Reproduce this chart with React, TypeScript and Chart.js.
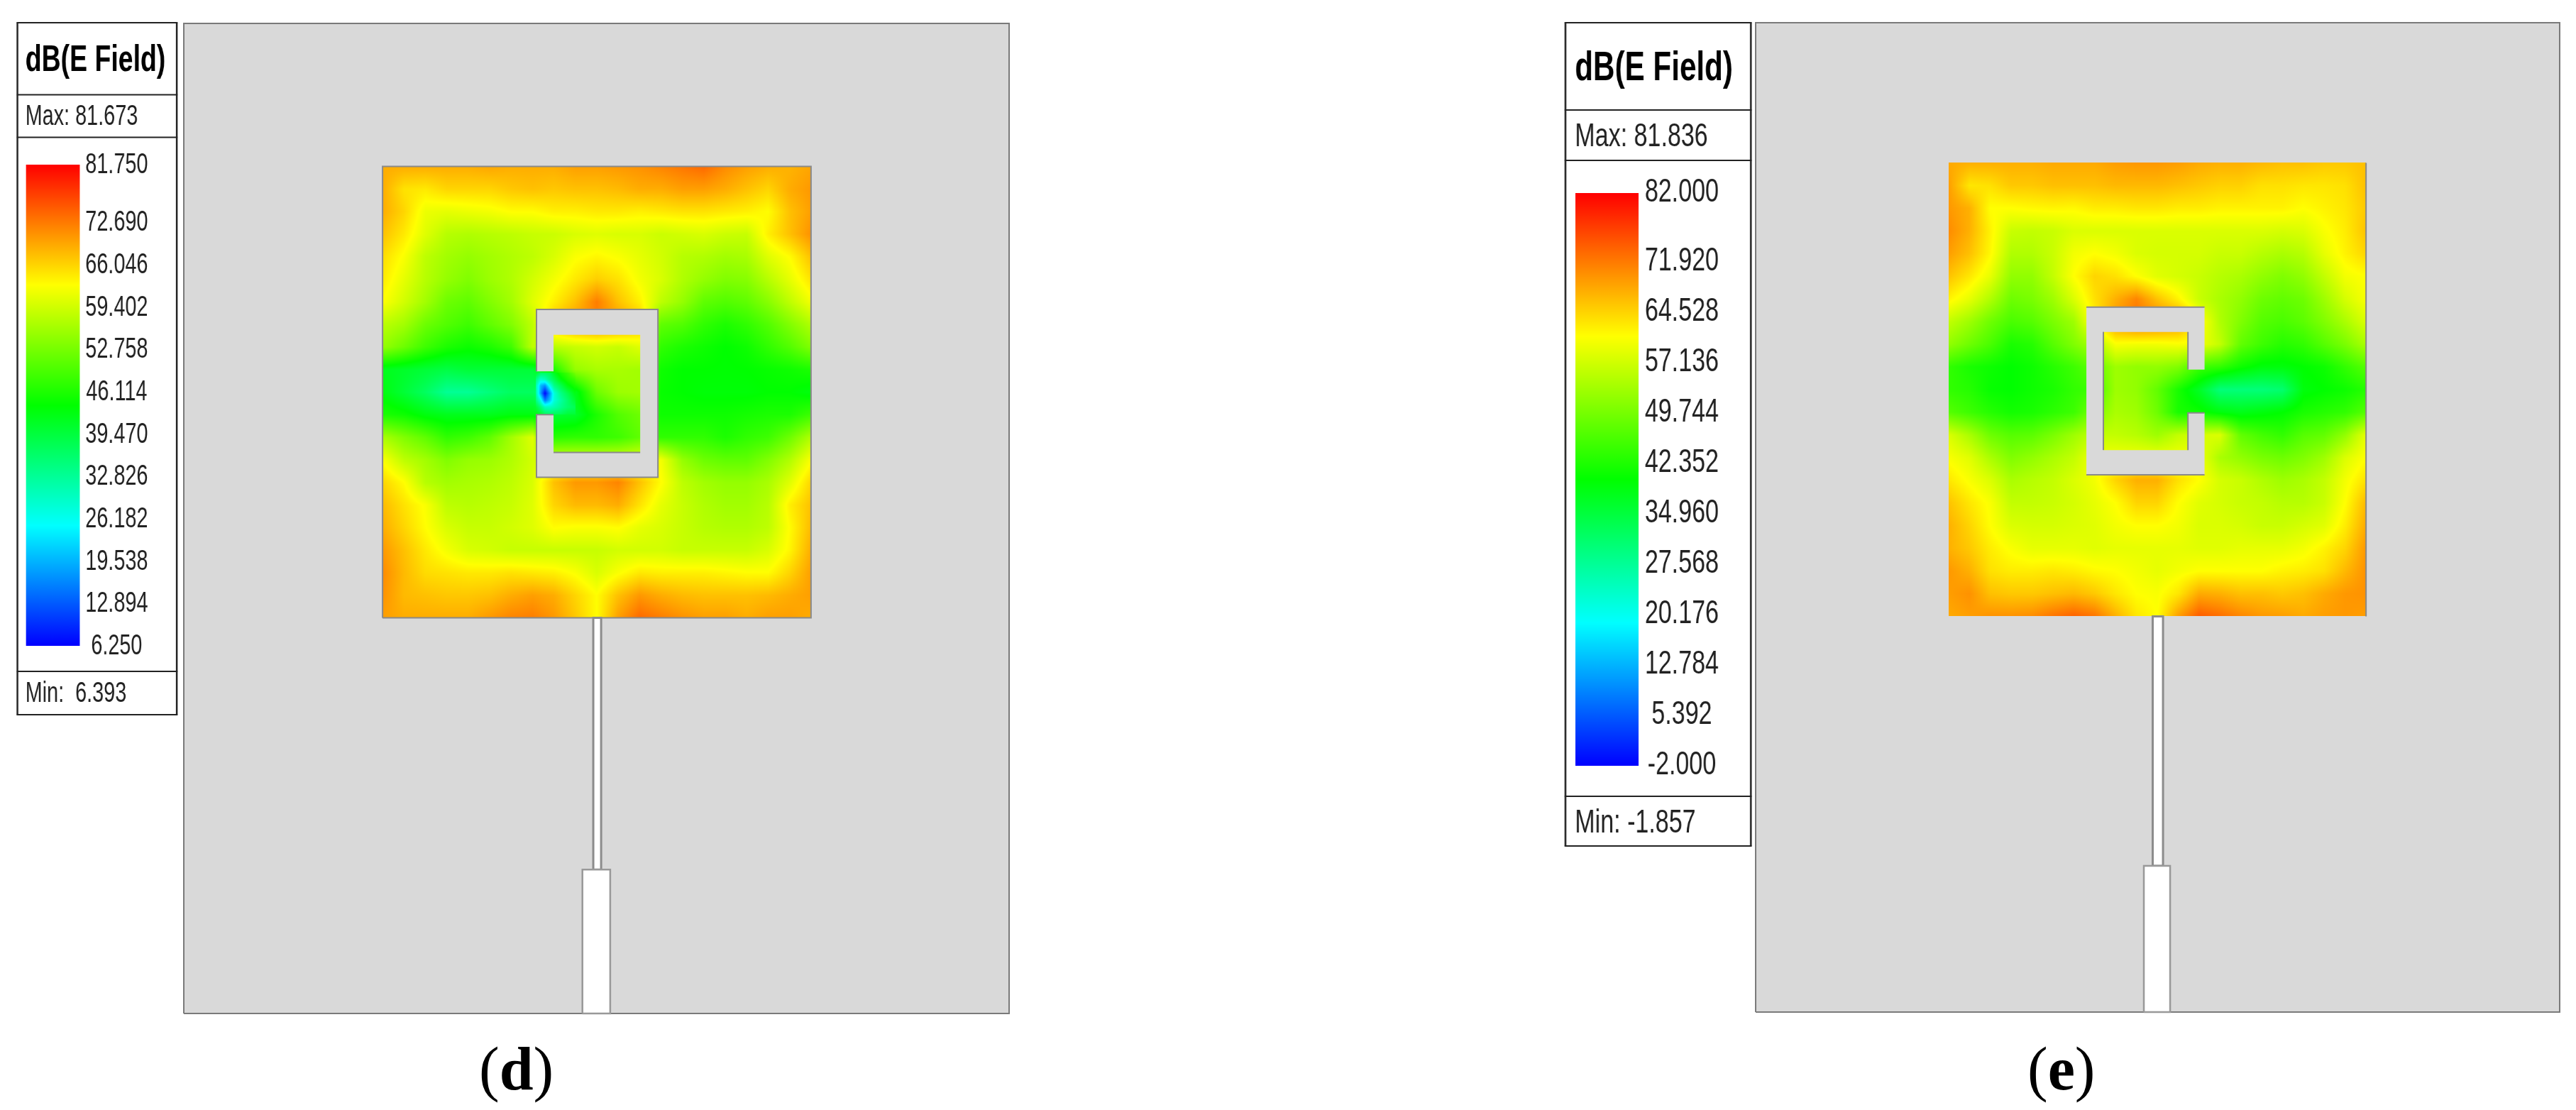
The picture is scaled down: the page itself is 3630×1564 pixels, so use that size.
import React, { useEffect, useRef } from "react";
import { Chart, registerables } from "chart.js";

Chart.register(...registerables);

// ---------- data: model units are millimetres on the board ----------
const boardW = 60;
const boardH = 72;

const ticksD = [81.75, 72.69, 66.046, 59.402, 52.758, 46.114, 39.47, 32.826, 26.182, 19.538, 12.894, 6.25];
const ticksE = [82, 71.92, 64.528, 57.136, 49.744, 42.352, 34.96, 27.568, 20.176, 12.784, 5.392, -2];

const patchD = { x0: 14.45, x1: 45.6, y0: 28.77, y1: 61.6 };
const patchE = { x0: 14.4, x1: 45.55, y0: 28.8, y1: 61.8 };

const ringDx = [25.64, 25.64, 34.47, 34.47, 25.64, 25.64, 26.88, 26.88, 33.18, 33.18, 26.88, 26.88, 25.64];
const ringDy = [46.7, 51.2, 51.2, 39, 39, 43.55, 43.55, 40.8, 40.8, 49.35, 49.35, 46.7, 46.7];
const ringEx = [33.5, 33.5, 24.68, 24.68, 33.5, 33.5, 32.26, 32.26, 25.95, 25.95, 32.26, 32.26, 33.5];
const ringEy = [46.75, 51.3, 51.3, 39.1, 39.1, 43.6, 43.6, 40.9, 40.9, 49.5, 49.5, 46.75, 46.75];

const feedD = { x0: 29.77, x1: 30.34, y0: 10.47, y1: 28.77 };
const feedE = { x0: 29.63, x1: 30.4, y0: 10.64, y1: 28.8 };
const portD = { x0: 28.98, x1: 31.0, y0: 0, y1: 10.47 };
const portE = { x0: 28.97, x1: 30.93, y0: 0, y1: 10.64 };

// ring / patch edges carrying the grey shading line
const edgesD = [
  [[14.45, 28.77], [14.45, 61.6], [45.6, 61.6], [45.6, 28.77], [14.45, 28.77]],
  [[25.64, 46.7], [25.64, 51.2], [34.47, 51.2], [34.47, 39], [25.64, 39], [25.64, 43.55], [26.88, 43.55]],
  [[26.88, 40.8], [33.18, 40.8]],
];
const edgesE = [
  [[45.55, 28.8], [45.55, 61.8]],
  [[24.68, 51.3], [33.5, 51.3]],
  [[24.68, 39.1], [33.5, 39.1]],
  [[25.95, 40.9], [25.95, 49.5]],
  [[32.26, 40.9], [32.26, 43.6], [33.5, 43.6]],
  [[32.26, 49.5], [32.26, 46.75]],
];

// dB(E Field) sampled top-to-bottom, left-to-right over the patch
const fieldD = [
  [69, 69, 69, 69, 69, 69.5, 69, 69, 69, 70, 70, 70.5, 71, 72, 73, 74, 71.5, 70, 69, 68.5, 69.5],
  [69, 65, 64.5, 66, 66, 66, 67, 67.5, 67, 67.5, 67.5, 68, 69, 69, 70, 70, 69, 67.5, 66, 69, 70.5],
  [69, 66, 61.5, 61, 61.5, 62, 63, 63, 64, 64, 64.5, 64.5, 64, 64.5, 65, 65, 64.5, 64, 63, 67.5, 70],
  [67.5, 64.5, 60.5, 57.5, 57, 57.5, 58, 58.7, 59, 60, 60.5, 60, 60, 59, 59.5, 60, 59, 58.7, 64, 67.5, 71],
  [65.5, 62.5, 58, 56, 55, 56, 57, 58, 60, 62.5, 63.5, 62.5, 61, 59.5, 57.5, 57, 56, 56.5, 60.5, 63, 67.5],
  [64.5, 61, 57.5, 55, 53.5, 55.5, 57, 59.5, 62, 64.5, 66.5, 65, 62, 60, 57, 55, 53.5, 54, 57.5, 61, 65],
  [62.8, 59.5, 56, 52, 51, 53.5, 56, 60.5, 64, 67.5, 72.5, 67.5, 64, 58, 55, 51, 50, 51, 54, 58, 62],
  [58, 56, 52, 50, 48.5, 51, 53.5, 58, 68, 71, 72, 71, 68, 51, 50, 47.5, 46, 47.5, 50, 53.5, 57],
  [55, 52, 48.5, 46, 44.8, 46, 48.5, 58, 57.5, 58.7, 59.5, 58.7, 60.5, 47.5, 46, 45, 44, 45, 47.5, 50, 53.5],
  [42, 41, 40, 39, 40, 40, 40, 40, 46, 55, 56.5, 56.5, 56, 45, 44, 44, 43.8, 44, 44.5, 45, 46],
  [43, 40, 37, 33, 33, 35, 37, 37, 33, 42, 52, 55.5, 56, 44.5, 44, 43.5, 43.5, 43.5, 44, 44, 43],
  [46, 45, 43, 42, 42, 42, 43, 43, 40, 41, 46, 50, 52, 45, 45, 45, 45, 45.5, 46, 46, 48.5],
  [56.5, 53.5, 51, 47.5, 48.5, 51, 56, 60.5, 47, 47.5, 47.5, 48.5, 51, 47.5, 47.5, 47.5, 46, 47.5, 48.5, 52, 57],
  [62.5, 58, 56, 53.5, 55, 55.5, 57, 59.5, 60, 60, 60, 60, 61, 62, 55, 52, 51, 51, 53.5, 57, 62.5],
  [66, 63, 57.5, 56, 56.5, 57, 58, 60, 67.5, 70.5, 70.5, 72, 67.5, 63, 58, 56, 55, 55, 56.5, 60.5, 66],
  [68, 65, 62.5, 58, 57.5, 58, 58.7, 60.5, 66, 68, 68, 69, 65, 61, 58.7, 57, 56, 56, 57.5, 64, 67.5],
  [69, 66, 63, 60, 58.7, 58.7, 59.5, 60.5, 63, 62.5, 62.5, 63, 61, 60, 58.7, 57.5, 57, 57, 58, 63, 68],
  [70.5, 67.5, 64.5, 62, 60, 59.5, 58.7, 58.7, 58.7, 58.7, 58.7, 59.5, 59.5, 59.5, 58.7, 58.7, 58.7, 58.7, 60, 63.5, 69],
  [71.5, 68, 65.5, 65, 64.5, 64.5, 65, 64.5, 64, 62.5, 60, 62.5, 64.5, 64, 64, 64, 63.5, 63, 63, 66, 70],
  [71, 68, 67.5, 67, 67, 67.5, 69, 70, 69, 66, 63, 67.5, 70.5, 69, 68, 67.5, 67.5, 67.5, 68, 69, 70],
  [70, 69, 69, 69, 69, 70.5, 72, 72.5, 70.5, 67, 63, 70, 74, 72.5, 71, 70, 70, 69, 70, 70, 69],
];

// finer samples round the slot of panel (d), where the minimum sits
const slotXd = [25.59, 25.95, 26.26, 26.63, 26.93, 27.4, 27.9, 28.5];
const slotYd = [46.6, 46.1, 45.65, 45.1, 44.6, 44.1, 43.55];
const slotFieldD = [
  [41, 37, 37, 38, 42, 46, 48.5, 53],
  [35, 28.5, 30, 35, 38, 43, 46, 48.5],
  [32, 20, 17, 27, 34, 38, 43, 46],
  [33, 18, 6.5, 18, 28, 34, 38, 43],
  [35, 27, 15, 21, 28, 32, 36, 41],
  [40, 35, 30, 30, 31, 33.5, 36, 38],
  [43, 41, 38, 37, 38, 38, 40, 40],
];

const fieldE = [
  [68, 67.5, 67.5, 67.5, 67.5, 68, 68, 68, 69, 69.5, 69.5, 69, 68, 67.5, 67.5, 66.8, 66.2, 66.2, 65.5, 65.5, 66.2],
  [69, 63, 63.5, 65.5, 65.5, 66.2, 66.2, 66.2, 66.8, 66.8, 66.8, 66.2, 65.5, 64.8, 64.8, 63.5, 63.5, 63, 63, 63.5, 66.2],
  [69.5, 67.5, 61, 61, 61.5, 61.8, 61.5, 62.5, 62.5, 63, 63, 62.5, 62.5, 62, 62, 62, 62, 61, 62, 63, 65.5],
  [70.5, 67.5, 62, 56.5, 56, 56.5, 58, 58, 58, 58, 58, 58, 58, 58, 58, 58, 57.5, 58, 60.5, 62.5, 66],
  [69, 66.2, 61.5, 54.5, 54.5, 56.5, 60, 61, 60, 58, 57.5, 57.5, 57.5, 56.5, 56.5, 55, 54, 55, 59, 62, 64.5],
  [66, 63, 59, 52, 52, 56, 61, 64.5, 63.5, 61, 58.5, 57.5, 56.5, 55, 54, 52, 50.5, 52, 56, 60, 61],
  [62, 59, 54.5, 49, 50, 53, 58, 63.5, 67.5, 71, 66, 62, 56.5, 54, 52, 49, 48, 49, 53, 57.5, 60.5],
  [56, 53, 49, 46, 47, 50, 53, 62, 70, 73, 72, 70, 62, 54.5, 50.5, 47, 46, 47.5, 50.5, 54, 58],
  [52, 49, 46, 42, 43, 47, 50.5, 54, 60.5, 60, 60, 60.5, 60, 56, 48, 45, 43, 44, 47, 50, 54],
  [44, 42, 41, 40, 41, 43, 45, 48, 53, 52, 52, 50.5, 45, 44, 41, 39, 39, 40, 41, 44, 47],
  [44, 43, 40.5, 40, 41, 42, 44, 45, 53, 52, 48, 42, 37, 30, 30, 30, 31, 39, 40, 41, 43],
  [47, 45, 43, 41.5, 42, 43.5, 45, 50, 54, 53, 49, 42, 41, 39, 38, 39, 40, 42, 43, 44, 47],
  [58, 54, 49, 47, 47.5, 50, 53, 56, 56, 55, 53, 56, 57.5, 58, 48, 45.5, 44, 47, 48, 52, 59],
  [60.5, 58.5, 54, 50.5, 52, 54, 56, 60, 60, 60, 60, 60, 60, 54, 52, 50, 49, 50.5, 53, 58, 61],
  [63, 60.5, 58, 54, 55, 56, 58, 60, 64.5, 67.5, 67.5, 63.5, 61, 57.5, 56.5, 54.5, 53, 54, 56, 60, 63.5],
  [66, 63, 60.5, 56, 56, 56.5, 57.5, 59, 61, 64.5, 64.5, 61, 58.5, 57.5, 56.5, 56, 55, 55, 56.5, 61, 66.8],
  [67.5, 64.5, 61, 58, 57.5, 57.5, 58, 58.5, 60, 61, 61, 60, 58, 58, 57.5, 56.5, 56.5, 57.5, 58.5, 62.5, 68],
  [67.5, 65.5, 62.5, 60.5, 59, 59, 59, 58.5, 59, 59, 59, 59, 58.5, 58.5, 59, 59, 59, 60, 62, 64.5, 69.5],
  [69.5, 67.5, 63.5, 62.5, 62.5, 63, 62.5, 61.5, 61, 60, 59, 60, 61, 61, 61, 61, 62, 62.5, 63.5, 66.8, 70],
  [69, 70, 66.2, 65.5, 65.5, 66.2, 66.8, 65.5, 63, 61, 60.5, 63, 68, 67.5, 66.2, 66.2, 65.5, 66.2, 68, 69.5, 70],
  [68, 69, 70, 70, 70.5, 72.5, 74, 72.5, 67.5, 63, 61, 69, 74.5, 73, 71, 69.5, 69, 68, 69, 69.5, 69],
];

const titleText = "dB(E Field)";
const maxD = "Max: 81.673";
const minD = "Min:  6.393";
const maxE = "Max: 81.836";
const minE = "Min: -1.857";

// ---------- helpers ----------
const SANS = "'Liberation Sans', Arial, sans-serif";

function rainbow(t: number): [number, number, number] {
  const u = Math.max(0, Math.min(1, t));
  if (u < 0.25) return [0, 1020 * u, 255];
  if (u < 0.5) return [0, 255, 255 - 1020 * (u - 0.25)];
  if (u < 0.75) return [1020 * (u - 0.5), 255, 0];
  return [255, 255 - 1020 * (u - 0.75), 0];
}

function cellIndex(axis: number[], v: number) {
  const asc = axis[1] > axis[0];
  for (let i = 0; i < axis.length - 1; i++) {
    if (asc ? v <= axis[i + 1] : v >= axis[i + 1]) return i;
  }
  return axis.length - 2;
}

function paintGrid(chart: any, gx: number[], gy: number[], rows: number[][], lo: number, hi: number) {
  const xs = chart.scales.x;
  const ys = chart.scales.y;
  const left = Math.round(xs.getPixelForValue(gx[0]));
  const right = Math.round(xs.getPixelForValue(gx[gx.length - 1]));
  const top = Math.round(ys.getPixelForValue(gy[0]));
  const bottom = Math.round(ys.getPixelForValue(gy[gy.length - 1]));
  const w = right - left;
  const h = bottom - top;
  const off = document.createElement("canvas");
  off.width = w;
  off.height = h;
  const octx = off.getContext("2d")!;
  const img = octx.createImageData(w, h);
  for (let py = 0; py < h; py++) {
    const yv = ys.getValueForPixel(top + py + 0.5);
    const j = cellIndex(gy, yv);
    const fy = (yv - gy[j]) / (gy[j + 1] - gy[j]);
    for (let px = 0; px < w; px++) {
      const xv = xs.getValueForPixel(left + px + 0.5);
      const i = cellIndex(gx, xv);
      const fx = (xv - gx[i]) / (gx[i + 1] - gx[i]);
      const v =
        rows[j][i] * (1 - fx) * (1 - fy) +
        rows[j][i + 1] * fx * (1 - fy) +
        rows[j + 1][i] * (1 - fx) * fy +
        rows[j + 1][i + 1] * fx * fy;
      const [r, g, b] = rainbow((v - lo) / (hi - lo));
      const k = (py * w + px) * 4;
      img.data[k] = r;
      img.data[k + 1] = g;
      img.data[k + 2] = b;
      img.data[k + 3] = 255;
    }
  }
  octx.putImageData(img, 0, 0);
  chart.ctx.drawImage(off, left, top);
}

const fieldPlugin = {
  id: "fieldShading",
  afterDatasetDraw(chart: any, args: any) {
    const ds = chart.data.datasets[args.index];
    if (!ds.fieldGrids) return;
    for (const g of ds.fieldGrids) paintGrid(chart, g.x, g.y, g.rows, ds.scaleLo, ds.scaleHi);
  },
};

function steps(a: number, b: number, n: number) {
  const out: number[] = [];
  for (let i = 0; i < n; i++) out.push(a + ((b - a) * i) / (n - 1));
  return out;
}

function rectPts(r: { x0: number; x1: number; y0: number; y1: number }) {
  return [
    { x: r.x0, y: r.y0 },
    { x: r.x0, y: r.y1 },
    { x: r.x1, y: r.y1 },
    { x: r.x1, y: r.y0 },
    { x: r.x0, y: r.y0 },
  ];
}

function shape(label: string, data: any[], fillColor: string, lineColor: string, lineWidth: number, order: number) {
  return {
    label,
    data,
    showLine: true,
    fill: "shape",
    backgroundColor: fillColor,
    borderColor: lineColor,
    borderWidth: lineWidth,
    pointRadius: 0,
    tension: 0,
    clip: false,
    order,
  };
}

function plotConfig(p: any) {
  const gx = steps(p.patch.x0, p.patch.x1, p.field[0].length);
  const gy = steps(p.patch.y1, p.patch.y0, p.field.length);
  const grids = [{ x: gx, y: gy, rows: p.field }];
  if (p.slot) grids.push(p.slot);
  const fieldPts: any[] = [];
  p.field.forEach((row: number[], j: number) =>
    row.forEach((v, i) => fieldPts.push({ x: gx[i], y: gy[j], v }))
  );
  const datasets: any[] = [
    shape("Board", rectPts({ x0: 0, x1: boardW, y0: 0, y1: boardH }), "#d9d9d9", "#7a7a7a", 2, 10),
    {
      label: "dB(E Field)",
      data: fieldPts,
      pointRadius: 0,
      showLine: false,
      order: 9,
      fieldGrids: grids,
      scaleLo: p.ticks[p.ticks.length - 1],
      scaleHi: p.ticks[0],
    },
    shape("Ring", p.ringX.map((x: number, i: number) => ({ x, y: p.ringY[i] })), "#d9d9d9", "rgba(0,0,0,0)", 0, 7),
    shape("Feed", rectPts(p.feed), "#ffffff", "#8c8c8c", 3, 5),
    shape("Port", rectPts(p.port), "#ffffff", "#999999", 2.5, 4),
  ];
  p.edges.forEach((line: number[][], i: number) =>
    datasets.push({
      label: "Edge " + i,
      data: line.map(([x, y]) => ({ x, y })),
      showLine: true,
      fill: false,
      borderColor: "#8a8a8a",
      borderWidth: 2,
      pointRadius: 0,
      clip: false,
      order: 6,
    })
  );
  return {
    type: "scatter",
    data: { datasets },
    plugins: [fieldPlugin],
    options: {
      animation: false,
      responsive: false,
      layout: { padding: 2 },
      events: [],
      plugins: { legend: { display: false }, tooltip: { enabled: false }, title: { display: false } },
      scales: {
        x: { type: "linear", display: false, min: 0, max: boardW },
        y: { type: "linear", display: false, min: 0, max: boardH },
      },
    },
  };
}

function legendConfig(l: any) {
  const frame = {
    id: "legendFrame",
    afterDraw(chart: any) {
      const { ctx, width, height } = chart;
      ctx.save();
      ctx.strokeStyle = "#222222";
      const a = l.inset;
      const b = width - l.inset;
      ctx.lineWidth = 3.4;
      ctx.beginPath();
      ctx.moveTo(a, l.boxTop);
      ctx.lineTo(a, height - l.boxBottom);
      ctx.moveTo(b, l.boxTop);
      ctx.lineTo(b, height - l.boxBottom);
      ctx.stroke();
      ctx.lineWidth = 2.2;
      ctx.beginPath();
      for (const y of [l.boxTop, l.div1, l.div2, l.div3, height - l.boxBottom]) {
        ctx.moveTo(a - 1.7, y);
        ctx.lineTo(b + 1.7, y);
      }
      ctx.stroke();
      ctx.textAlign = "left";
      ctx.textBaseline = "alphabetic";
      ctx.fillStyle = "#000000";
      ctx.font = `bold ${l.titleSize}px ${SANS}`;
      ctx.fillText(titleText, l.textX, l.titleBase);
      ctx.fillStyle = "#222222";
      ctx.font = `${l.tickSize}px ${SANS}`;
      ctx.fillText(l.max, l.textX, l.maxBase);
      ctx.fillText(l.min, l.textX, l.minBase);
      ctx.restore();
    },
  };
  const ticks: number[] = l.ticks;
  return {
    type: "bar",
    data: {
      labels: ["dB(E Field)"],
      datasets: [
        {
          label: "scale",
          data: [[ticks[ticks.length - 1], ticks[0]]],
          barPercentage: 1,
          categoryPercentage: 1,
          borderWidth: 0,
          backgroundColor(c: any) {
            const area = c.chart.chartArea;
            if (!area) return "#00ff00";
            const g = c.chart.ctx.createLinearGradient(0, area.top, 0, area.bottom);
            g.addColorStop(0, "#ff0000");
            g.addColorStop(0.25, "#ffff00");
            g.addColorStop(0.5, "#00ff00");
            g.addColorStop(0.75, "#00ffff");
            g.addColorStop(1, "#0000ff");
            return g;
          },
        },
      ],
    },
    plugins: [frame],
    options: {
      animation: false,
      responsive: false,
      events: [],
      layout: { padding: { top: l.padTop, bottom: l.padBottom, left: l.padLeft, right: 0 } },
      plugins: { legend: { display: false }, tooltip: { enabled: false }, title: { display: false } },
      scales: {
        x: { display: false, grid: { display: false } },
        y: {
          position: "right",
          min: ticks[ticks.length - 1],
          max: ticks[0],
          border: { display: false },
          grid: { display: false, drawTicks: false },
          afterBuildTicks(scale: any) {
            scale.ticks = ticks.map((value) => ({ value }));
          },
          afterFit(scale: any) {
            scale.width = l.axisWidth;
          },
          ticks: {
            autoSkip: false,
            maxRotation: 0,
            padding: l.tickPad,
            crossAlign: "center",
            labelOffset: l.labelShift,
            color: "#222222",
            font: { family: SANS, size: l.tickSize },
            callback: (v: number) => Number(v).toFixed(3),
          },
        },
      },
    },
  };
}

function ChartBox({ config, style, width, height }: any) {
  const ref = useRef<HTMLCanvasElement>(null);
  useEffect(() => {
    const chart = new Chart(ref.current as any, config);
    return () => chart.destroy();
  }, []);
  return <canvas ref={ref} width={width} height={height} style={{ position: "absolute", display: "block", ...style }} />;
}

function Caption({ letter, left, top }: any) {
  return (
    <div
      style={{
        position: "absolute",
        left,
        top,
        fontFamily: "'Liberation Serif', serif",
        fontSize: 86,
        lineHeight: "100px",
        color: "#000",
        whiteSpace: "nowrap",
      }}
    >
      (<b>{letter}</b>)
    </div>
  );
}

const plotD = plotConfig({
  patch: patchD,
  field: fieldD,
  ticks: ticksD,
  slot: { x: slotXd, y: slotYd, rows: slotFieldD },
  ringX: ringDx,
  ringY: ringDy,
  feed: feedD,
  port: portD,
  edges: edgesD,
});
const plotE = plotConfig({
  patch: patchE,
  field: fieldE,
  ticks: ticksE,
  ringX: ringEx,
  ringY: ringEy,
  feed: feedE,
  port: portE,
  edges: edgesE,
});

const legendD = legendConfig({
  ticks: ticksD,
  max: maxD,
  min: minD,
  inset: 3.5,
  boxTop: 3,
  boxBottom: 3,
  div1: 104.5,
  div2: 164.5,
  div3: 917,
  titleSize: 52,
  tickSize: 40,
  textX: 19,
  titleBase: 71,
  maxBase: 147,
  minBase: 960,
  padTop: 203,
  padBottom: 100,
  padLeft: 20.4,
  axisWidth: 193.4,
  tickPad: 11,
  labelShift: 1,
});
const legendE = legendConfig({
  ticks: ticksE,
  max: maxE,
  min: minE,
  inset: 4,
  boxTop: 3,
  boxBottom: 3,
  div1: 126,
  div2: 197,
  div3: 1093,
  titleSize: 57,
  tickSize: 46,
  textX: 22,
  titleBase: 84,
  maxBase: 177,
  minBase: 1143.5,
  padTop: 243,
  padBottom: 116,
  padLeft: 23,
  axisWidth: 217.8,
  tickPad: 12,
  labelShift: -1,
});

export default function App() {
  useEffect(() => {
    document.body.style.margin = "0";
    document.body.style.background = "#ffffff";
  }, []);
  return (
    <div style={{ position: "absolute", left: 0, top: 0, width: 3630, height: 1564, overflow: "hidden", background: "#fff" }}>
      <ChartBox
        config={legendD}
        width={319.4}
        height={981}
        style={{ left: 22, top: 29, transform: "scaleX(0.72)", transformOrigin: "0 0" }}
      />
      <ChartBox config={plotD} width={1167} height={1399} style={{ left: 257, top: 31 }} />
      <Caption letter="d" left={675} top={1456} />
      <ChartBox
        config={legendE}
        width={361}
        height={1166}
        style={{ left: 2203, top: 29, transform: "scaleX(0.74)", transformOrigin: "0 0" }}
      />
      <ChartBox config={plotE} width={1137} height={1398} style={{ left: 2472, top: 30 }} />
      <Caption letter="e" left={2857} top={1456} />
    </div>
  );
}
